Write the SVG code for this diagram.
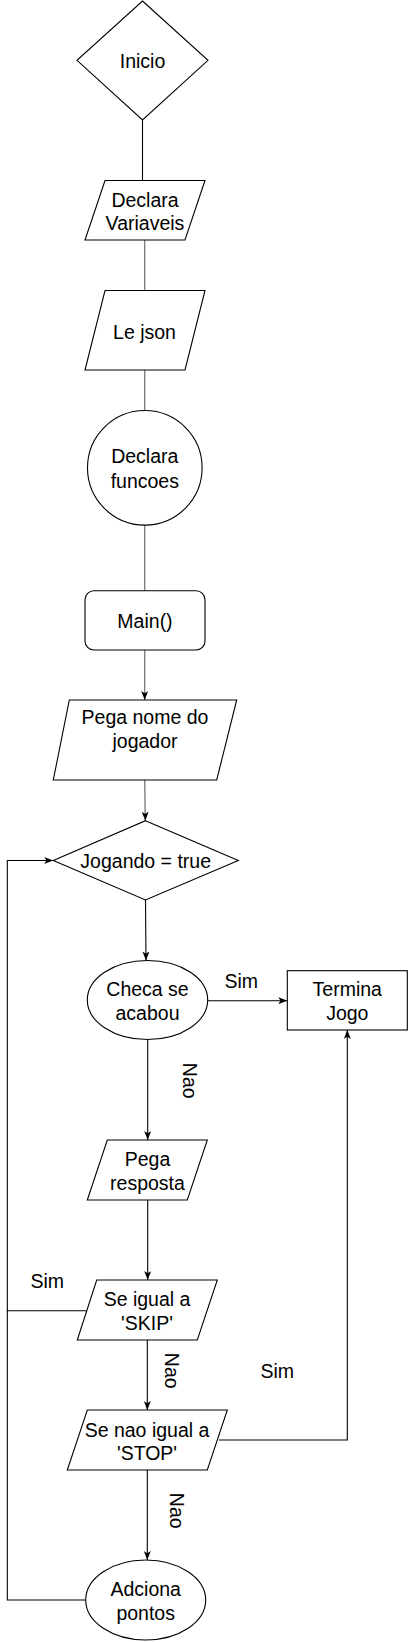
<svg xmlns="http://www.w3.org/2000/svg" width="409" height="1642" viewBox="0 0 409 1642">
<style>
.n{fill:#fff;stroke:#000;stroke-width:1.1}
.t{font-family:"Liberation Sans",Arial,sans-serif;font-size:19.5px;fill:#000;text-anchor:middle}
.c{fill:none;stroke:#000;stroke-width:1.1}
.g{fill:none;stroke:#808080;stroke-width:1.4}
</style>
<defs>
<marker id="a" viewBox="0 0 9 7" refX="9" refY="3.5" markerWidth="9" markerHeight="7" markerUnits="userSpaceOnUse" orient="auto">
<path d="M0,0 L9,3.5 L0,7 L2.2,3.5 Z" fill="#000"/>
</marker>
<marker id="ag" viewBox="0 0 9 7" refX="9" refY="3.5" markerWidth="9" markerHeight="7" markerUnits="userSpaceOnUse" orient="auto">
<path d="M0,0 L9,3.5 L0,7 L2.2,3.5 Z" fill="#000"/>
</marker>
</defs>
<g id="connectors">
<path class="c" d="M142.5,120 V180.5"/>
<path class="g" d="M144.7,240 V290.5"/>
<path class="g" d="M144.7,370 V410.5"/>
<path class="g" d="M144.7,525 V590.7"/>
<path class="g" d="M144.7,650 V700" marker-end="url(#ag)"/>
<path class="g" d="M144.7,780 L145.3,820.7" marker-end="url(#ag)"/>
<path class="c" d="M145.5,900 L146,960.5" marker-end="url(#a)"/>
<path class="c" d="M207.7,1000.7 H287.3" marker-end="url(#a)"/>
<path class="c" d="M147.7,1039.5 V1140" marker-end="url(#a)"/>
<path class="c" d="M147.7,1200 V1280" marker-end="url(#a)"/>
<path class="c" d="M87.3,1310.7 H7.3 V860.5 H53.3" marker-end="url(#a)"/>
<path class="c" d="M147.3,1340 V1410" marker-end="url(#a)"/>
<path class="c" d="M219,1440 H347.3 V1030" marker-end="url(#a)"/>
<path class="c" d="M147.3,1470 V1560" marker-end="url(#a)"/>
<path class="c" d="M85.7,1600 H7.3 V1310.7"/>
<text class="t" x="241.3" y="988.3">Sim</text>
<text class="t" x="47.3" y="1288.3">Sim</text>
<text class="t" x="277.3" y="1378.3">Sim</text>
<text class="t" x="190" y="1080.7" dominant-baseline="central" transform="rotate(90 190 1080.7)">Nao</text>
<text class="t" x="171.7" y="1370.7" dominant-baseline="central" transform="rotate(90 171.7 1370.7)">Nao</text>
<text class="t" x="177.3" y="1510.7" dominant-baseline="central" transform="rotate(90 177.3 1510.7)">Nao</text>
</g>
<g id="inicio">
<polygon class="n" points="142.5,1 208,60.3 142.5,120 77,60.3"/>
<text class="t" x="142.5" y="68.3">Inicio</text>
</g>
<g id="declara-variaveis">
<polygon class="n" points="105,180.5 205,180.5 185,240 85,240"/>
<text class="t" x="145" y="206.5">Declara</text>
<text class="t" x="145" y="230">Variaveis</text>
</g>
<g id="le-json">
<polygon class="n" points="105,290.5 205,290.5 185,370 85,370"/>
<text class="t" x="144.5" y="339.3">Le json</text>
</g>
<g id="declara-funcoes">
<circle class="n" cx="144.8" cy="467.8" r="57.3"/>
<text class="t" x="144.8" y="463.3">Declara</text>
<text class="t" x="144.8" y="488.3">funcoes</text>
</g>
<g id="main">
<rect class="n" x="85" y="590.7" width="120" height="59.3" rx="9"/>
<text class="t" x="145" y="628.3">Main()</text>
</g>
<g id="pega-nome">
<polygon class="n" points="69.3,700 236.7,700 216.7,780 53.3,780"/>
<text class="t" x="145" y="724">Pega nome do</text>
<text class="t" x="145" y="748">jogador</text>
</g>
<g id="jogando">
<polygon class="n" points="145.5,820.7 238.3,860.5 145.5,900 53.3,860.5"/>
<text class="t" x="145.7" y="868.3">Jogando = true</text>
</g>
<g id="checa">
<ellipse class="n" cx="147.5" cy="1000" rx="60.2" ry="39.5"/>
<text class="t" x="147.5" y="996">Checa se</text>
<text class="t" x="147.5" y="1020">acabou</text>
</g>
<g id="termina">
<rect class="n" x="287.3" y="970.7" width="120" height="59.3"/>
<text class="t" x="347.3" y="996">Termina</text>
<text class="t" x="347.3" y="1020">Jogo</text>
</g>
<g id="pega-resposta">
<polygon class="n" points="107.3,1140 207.3,1140 187.3,1200 87.3,1200"/>
<text class="t" x="147.5" y="1166">Pega</text>
<text class="t" x="147.5" y="1190">resposta</text>
</g>
<g id="se-igual">
<polygon class="n" points="96.7,1280 217.3,1280 197.3,1340 77.3,1340"/>
<text class="t" x="147" y="1306">Se igual a</text>
<text class="t" x="147" y="1330">'SKIP'</text>
</g>
<g id="se-nao">
<polygon class="n" points="87.3,1410 227.3,1410 207.3,1470 67.3,1470"/>
<text class="t" x="147" y="1436.7">Se nao igual a</text>
<text class="t" x="147" y="1460">'STOP'</text>
</g>
<g id="adciona">
<ellipse class="n" cx="145.7" cy="1600" rx="60" ry="40"/>
<text class="t" x="145.7" y="1596">Adciona</text>
<text class="t" x="145.7" y="1620">pontos</text>
</g>
</svg>
